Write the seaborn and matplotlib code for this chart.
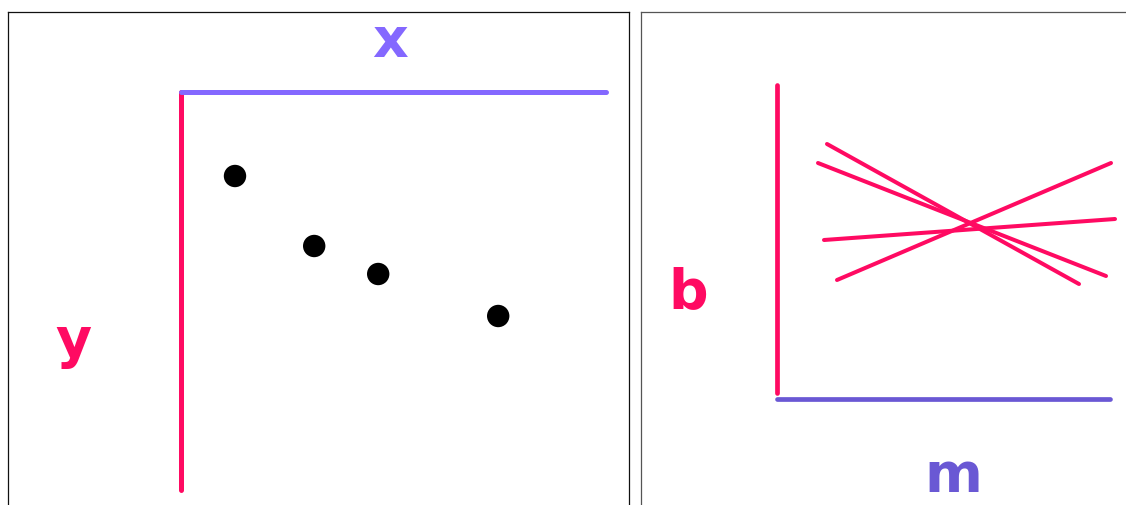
import matplotlib.pyplot as plt
import seaborn as sns
import pandas as pd

W, H = 1126, 505

PINK = "#ff0a62"
BLUE = "#8468ff"
BLUE_DARK = "#6a58d4"

# image space: four points (x to the right, y downward)
point_x = [1.35, 3.33, 4.93, 7.93]
point_y = [2.10, 3.85, 4.55, 5.60]

# parameter space: one line per point, start / end
line_id = ["p1", "p2", "p3", "p4"]
line_m0 = [1.25, 1.025, 1.175, 1.50]
line_m1 = [7.55, 8.225, 8.45, 8.35]
line_b0 = [6.375, 5.90, 3.975, 2.975]
line_b1 = [2.875, 3.075, 4.50, 5.90]

lines = pd.DataFrame({
    "line": line_id * 2,
    "m": line_m0 + line_m1,
    "b": line_b0 + line_b1,
    "end": [0] * 4 + [1] * 4,
}).sort_values(["line", "end"])

sns.set_theme(style="white")
plt.rcParams["font.family"] = ["DejaVu Sans"]

fig = plt.figure(figsize=(W / 100, H / 100), dpi=100)


def px_axes(x0, y0, x1, y1, **kw):
    return fig.add_axes([x0 / W, 1 - y1 / H, (x1 - x0) / W, (y1 - y0) / H], **kw)


def frame(ax, color, sides):
    ax.set_xticks([])
    ax.set_yticks([])
    ax.set_facecolor("none")
    for name, sp in ax.spines.items():
        sp.set_visible(name in sides)
        sp.set_color(color)
        sp.set_linewidth(0.9)


# outer panel borders
left_box = px_axes(8, 12, 629, 530)
frame(left_box, "#111111", ("left", "top", "right"))
right_box = px_axes(641, 12, 1150, 530)
frame(right_box, "#555555", ("left", "top"))

# left: x/y image space
ax1 = px_axes(181, 92, 606, 490)
sns.scatterplot(x=point_x, y=point_y, ax=ax1, s=260, color="black",
                edgecolor="none", legend=False)
ax1.set_xlim(0, 10.625)
ax1.set_ylim(9.95, 0)
ax1.set_xticks([])
ax1.set_yticks([])
ax1.set_facecolor("none")
for name, sp in ax1.spines.items():
    sp.set_visible(name in ("top", "left"))
    sp.set_linewidth(3.6)
    sp.set_capstyle("round")
ax1.spines["top"].set_color(BLUE)
ax1.spines["left"].set_color(PINK)

# right: m/b parameter space
ax2 = px_axes(777, 85, 1110, 399)
sns.lineplot(data=lines, x="m", y="b", units="line", estimator=None,
             sort=False, color=PINK, lw=2.9, ax=ax2, legend=False,
             solid_capstyle="round", clip_on=False)
ax2.set_xlim(0, 8.325)
ax2.set_ylim(0, 7.85)
ax2.set_xlabel("")
ax2.set_ylabel("")
ax2.set_xticks([])
ax2.set_yticks([])
ax2.set_facecolor("none")
for name, sp in ax2.spines.items():
    sp.set_visible(name in ("bottom", "left"))
    sp.set_linewidth(3.4)
    sp.set_capstyle("round")
ax2.spines["left"].set_color(PINK)
ax2.spines["left"].set_bounds(0.15, 7.85)
ax2.spines["bottom"].set_color(BLUE_DARK)

lab = dict(fontsize=40, fontweight="bold", ha="center", va="baseline")
fig.text(390 / W, 1 - 57 / H, "x", color=BLUE, **lab)
fig.text(73 / W, 1 - 357 / H, "y", color=PINK, **lab)
fig.text(688 / W, 1 - 308 / H, "b", color=PINK, **lab)
fig.text(953 / W, 1 - 492 / H, "m", color=BLUE_DARK, **lab)

fig.savefig("out.png", dpi=100, facecolor="white")
